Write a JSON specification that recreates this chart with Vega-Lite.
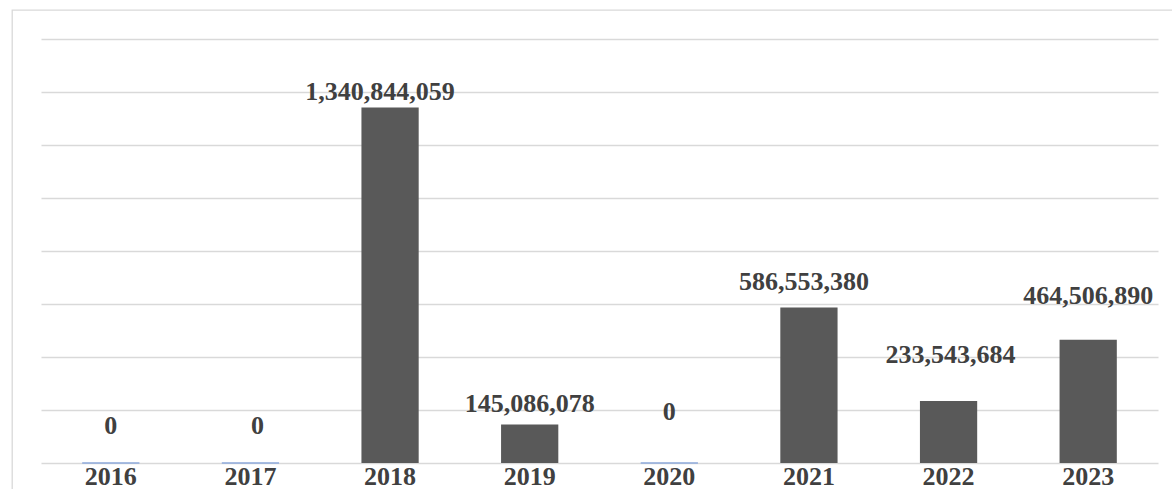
{
  "$schema": "https://vega.github.io/schema/vega-lite/v6.json",
  "width": 1162,
  "height": 481,
  "autosize": {"type": "none"},
  "padding": {"left": 12, "top": 10, "right": -2, "bottom": -2},
  "background": "white",
  "config": {
    "view": {"stroke": "#d9d9d9", "strokeWidth": 1.3},
    "text": {"font": "Liberation Serif", "fontWeight": "bold", "fontSize": 26, "color": "#404040", "baseline": "alphabetic", "align": "center"}
  },
  "data": {
    "values": [
      {"year": "2016", "value": 0},
      {"year": "2017", "value": 0},
      {"year": "2018", "value": 1340844059},
      {"year": "2019", "value": 145086078},
      {"year": "2020", "value": 0},
      {"year": "2021", "value": 586553380},
      {"year": "2022", "value": 233543684},
      {"year": "2023", "value": 464506890}
    ]
  },
  "encoding": {
    "x": {
      "field": "year", "type": "nominal", "sort": null,
      "scale": {"range": [29, 1146], "paddingInner": 0.59, "paddingOuter": 0.295},
      "axis": {"title": null, "orient": "bottom", "offset": -28, "domain": false, "ticks": false, "grid": false, "labelAngle": 0,
        "labelFont": "Liberation Serif", "labelFontWeight": "bold", "labelFontSize": 26, "labelColor": "#404040", "labelPadding": 0}
    },
    "y": {
      "field": "value", "type": "quantitative",
      "scale": {"domain": [-105600000, 1708200000], "nice": false},
      "axis": {"title": null, "labels": false, "ticks": false, "domain": false, "grid": true, "gridColor": "#d9d9d9", "gridWidth": 1.4,
        "values": [0, 200000000, 400000000, 600000000, 800000000, 1000000000, 1200000000, 1400000000, 1600000000]}
    }
  },
  "layer": [
    {"mark": {"type": "bar", "color": "#595959"}},
    {"mark": {"type": "bar", "fill": "transparent", "stroke": "#8faadc", "strokeWidth": 1.5}, "transform": [{"filter": "datum.value == 0"}]},
    {"mark": {"type": "text", "dy": -29, "dx": 0}, "transform": [{"filter": "datum.year == '2016'"}], "encoding": {"text": {"field": "value", "type": "quantitative", "format": ",d"}}},
    {"mark": {"type": "text", "dy": -29, "dx": 7}, "transform": [{"filter": "datum.year == '2017'"}], "encoding": {"text": {"field": "value", "type": "quantitative", "format": ",d"}}},
    {"mark": {"type": "text", "dy": -7, "dx": -10}, "transform": [{"filter": "datum.year == '2018'"}], "encoding": {"text": {"field": "value", "type": "quantitative", "format": ",d"}}},
    {"mark": {"type": "text", "dy": -13, "dx": 0}, "transform": [{"filter": "datum.year == '2019'"}], "encoding": {"text": {"field": "value", "type": "quantitative", "format": ",d"}}},
    {"mark": {"type": "text", "dy": -43, "dx": 0}, "transform": [{"filter": "datum.year == '2020'"}], "encoding": {"text": {"field": "value", "type": "quantitative", "format": ",d"}}},
    {"mark": {"type": "text", "dy": -17, "dx": -5}, "transform": [{"filter": "datum.year == '2021'"}], "encoding": {"text": {"field": "value", "type": "quantitative", "format": ",d"}}},
    {"mark": {"type": "text", "dy": -38, "dx": 2}, "transform": [{"filter": "datum.year == '2022'"}], "encoding": {"text": {"field": "value", "type": "quantitative", "format": ",d"}}},
    {"mark": {"type": "text", "dy": -36, "dx": 0}, "transform": [{"filter": "datum.year == '2023'"}], "encoding": {"text": {"field": "value", "type": "quantitative", "format": ",d"}}}
  ]
}
